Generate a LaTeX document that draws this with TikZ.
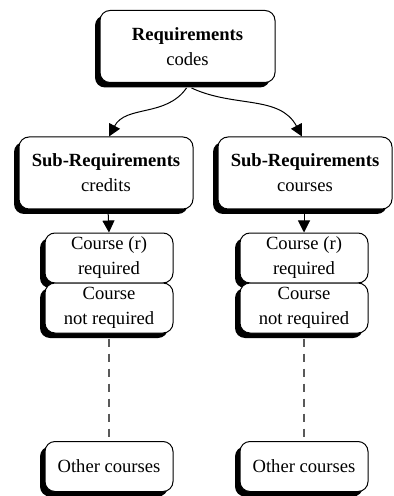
\documentclass[tikz,border=0pt]{standalone}
\usepackage{fontspec}
\setmainfont{Liberation Serif}
\usetikzlibrary{shadows,arrows.meta}
\begin{document}
\begin{tikzpicture}[x = 0.5pt, y = -0.5pt,
        box/.style = {draw, fill = white, line width = 0.5pt, rounded corners = 5pt,
                      align = center, inner sep = 0pt,
                      font = \fontsize{9.3}{12.5}\selectfont,
                      drop shadow = {shadow xshift = -2.5pt, shadow yshift = -2.5pt,
                                     fill = black, opacity = 1}},
        bigbox/.style = {box, minimum width = 87pt, minimum height = 36pt},
        coursebox/.style = {box, minimum width = 64pt, minimum height = 25pt},
        tip/.style = {-{Triangle[width = 6pt, length = 6pt]}, line width = 0.5pt}]
    \useasboundingbox (0,0) rectangle (393,496);
    % top level
    \node[bigbox, minimum width = 87.5pt] (req) at (187.5,46.5) {\textbf{Requirements}\\codes};
    % sub-requirements
    \node[bigbox] (subL) at (106,173) {\textbf{Sub-Requirements}\\credits};
    \node[bigbox] (subR) at (305,173) {\textbf{Sub-Requirements}\\courses};
    % course lists
    \node[coursebox] (reqL) at (109,258) {Course (r)\\required};
    \node[coursebox] (notL) at (109,308) {Course\\not required};
    \node[coursebox] (othL) at (109,466.5) {Other courses};
    \node[coursebox] (reqR) at (304,258) {Course (r)\\required};
    \node[coursebox] (notR) at (304,308) {Course\\not required};
    \node[coursebox] (othR) at (304,466.5) {Other courses};
    % connectors
    \draw[tip] ([xshift = -0.5pt, yshift = -2.5pt]req.south) to[out = -125, in = 62] ([xshift = 1.5pt]subL.north);
    \draw[tip] ([xshift = 2pt, yshift = -2.5pt]req.south) to[out = -25, in = 118] ([xshift = -1.5pt]subR.north);
    \draw[tip] ([xshift = 1pt]subL.south) -- (reqL.north);
    \draw[tip] ([xshift = -0.5pt]subR.south) -- (reqR.north);
    \begin{scope}[style = dashed, dash pattern = on 4pt off 3.5pt, draw = black!65, line width = 0.6pt]
        \draw ([yshift = -2.5pt]notL.south) -- (othL.north);
        \draw ([yshift = -2.5pt]notR.south) -- (othR.north);
    \end{scope}
\end{tikzpicture}
\end{document}
